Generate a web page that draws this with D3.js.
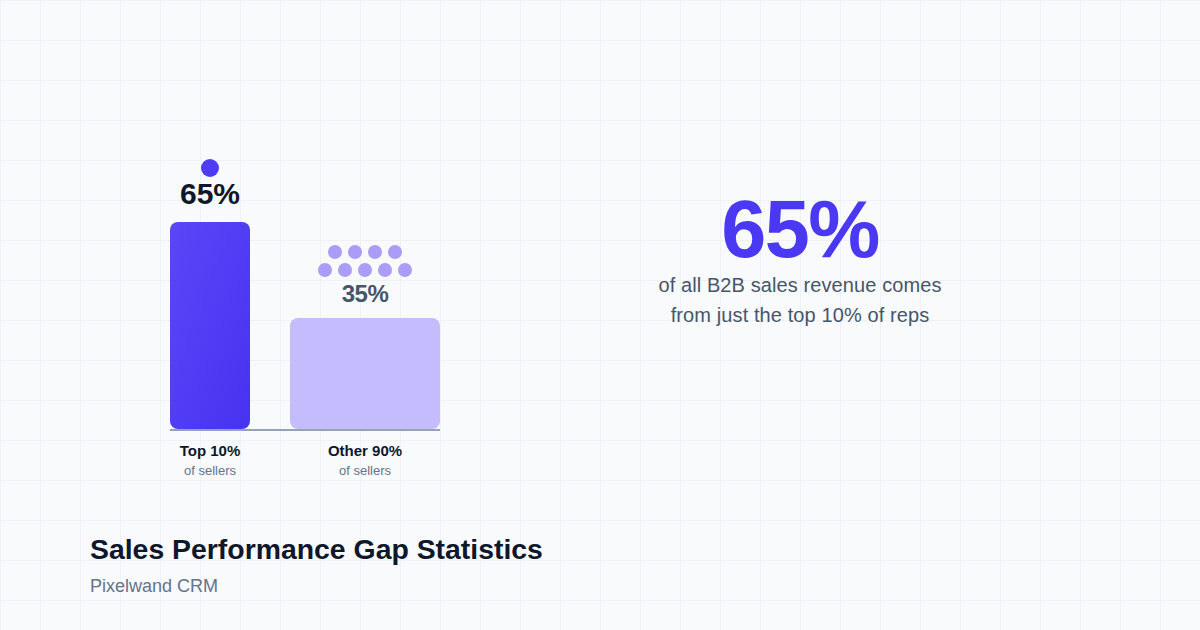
<!DOCTYPE html>
<html>
<head>
<meta charset="utf-8">
<script src="https://cdn.jsdelivr.net/npm/d3@7/dist/d3.min.js"></script>
<style>
  html, body { margin: 0; padding: 0; background: #f8fafc; }
  svg { display: block; font-family: "Liberation Sans", Arial, Helvetica, sans-serif; }
</style>
</head>
<body>
<svg id="chart" width="1200" height="630"></svg>
<script>
// ---- data ----
const categories = ["Top 10%", "Other 90%"];
const subLabels = ["of sellers", "of sellers"];
const shareValues = [65, 35];
const valueLabels = ["65%", "35%"];
const dotCounts = [1, 9];
const headline = "65%";
const headlineLines = ["of all B2B sales revenue comes", "from just the top 10% of reps"];
const title = "Sales Performance Gap Statistics";
const subtitle = "Pixelwand CRM";

// ---- layout ----
const W = 1200, H = 630;
const baseY = 430, chartLeft = 170;
const barWidths = [80, 150];
const barGap = 40;
const svg = d3.select("#chart");

// background grid
const gridX = d3.range(0, W + 1, 40), gridY = d3.range(0, H + 1, 40);
svg.append("rect").attr("width", W).attr("height", H).attr("fill", "#f8fafc");
svg.append("g").selectAll("line.v").data(gridX).join("line")
  .attr("x1", d => d + 0.5).attr("x2", d => d + 0.5).attr("y1", 0).attr("y2", H)
  .attr("stroke", "#eef2f6").attr("stroke-width", 1);
svg.append("g").selectAll("line.h").data(gridY).join("line")
  .attr("y1", d => d + 0.5).attr("y2", d => d + 0.5).attr("x1", 0).attr("x2", W)
  .attr("stroke", "#eef2f6").attr("stroke-width", 1);

// gradient
const defs = svg.append("defs");
const grad = defs.append("linearGradient").attr("id", "g1")
  .attr("x1", "0").attr("y1", "0").attr("x2", "1").attr("y2", "1");
grad.append("stop").attr("offset", "0%").attr("stop-color", "#5a47f8");
grad.append("stop").attr("offset", "100%").attr("stop-color", "#4733f0");

// scales
const y = d3.scaleLinear().domain([0, 100]).range([baseY, baseY - 320]);
const xStarts = barWidths.map((w, i) => chartLeft + d3.sum(barWidths.slice(0, i)) + barGap * i);
const x = d3.scaleOrdinal().domain(categories).range(xStarts);
const bw = d3.scaleOrdinal().domain(categories).range(barWidths);
const cx = c => x(c) + bw(c) / 2;

const rows = categories.map((c, i) => ({ c, v: shareValues[i], label: valueLabels[i], sub: subLabels[i], dots: dotCounts[i], i }));

// bars
svg.append("g").selectAll("rect").data(rows).join("rect")
  .attr("x", d => x(d.c)).attr("width", d => bw(d.c))
  .attr("y", d => y(d.v)).attr("height", d => y(0) - y(d.v) - 1)
  .attr("rx", 8).attr("ry", 8)
  .attr("fill", d => d.i === 0 ? "url(#g1)" : "#c4bcfd");

// baseline
svg.append("line")
  .attr("x1", chartLeft).attr("x2", x(categories[1]) + bw(categories[1]))
  .attr("y1", baseY).attr("y2", baseY)
  .attr("stroke", "#94a3b8").attr("stroke-width", 2);

// value labels
svg.append("g").selectAll("text").data(rows).join("text")
  .attr("x", d => cx(d.c))
  .attr("y", d => y(d.v) - (d.i === 0 ? 18 : 16))
  .attr("text-anchor", "middle")
  .attr("font-weight", 700)
  .attr("font-size", d => d.i === 0 ? 30 : 24)
  .attr("letter-spacing", d => d.i === 0 ? 0 : -0.5)
  .attr("fill", d => d.i === 0 ? "#0f172a" : "#475569")
  .text(d => d.label);

// people dots
rows.forEach(d => {
  const n = d.dots;
  let pts = [];
  if (n === 1) {
    pts.push({ x: cx(d.c), y: y(d.v) - 54, r: 9 });
  } else {
    const top = Math.floor(n / 2), bottom = n - top;
    const step = 20;
    for (let k = 0; k < top; k++) pts.push({ x: cx(d.c) + (k - (top - 1) / 2) * step, y: y(d.v) - 66, r: 7 });
    for (let k = 0; k < bottom; k++) pts.push({ x: cx(d.c) + (k - (bottom - 1) / 2) * step, y: y(d.v) - 48, r: 7 });
  }
  svg.append("g").selectAll("circle").data(pts).join("circle")
    .attr("cx", p => p.x).attr("cy", p => p.y).attr("r", p => p.r)
    .attr("fill", d.i === 0 ? "#4f3bf4" : "#ab9df7");
});

// category labels
svg.append("g").selectAll("text").data(rows).join("text")
  .attr("x", d => cx(d.c)).attr("y", baseY + 26)
  .attr("text-anchor", "middle").attr("font-weight", 700).attr("font-size", 15)
  .attr("fill", "#0f172a").text(d => d.c);
svg.append("g").selectAll("text").data(rows).join("text")
  .attr("x", d => cx(d.c)).attr("y", baseY + 45)
  .attr("text-anchor", "middle").attr("font-size", 13)
  .attr("fill", "#64748b").text(d => d.sub);

// headline
svg.append("text").attr("x", 800).attr("y", 257)
  .attr("text-anchor", "middle").attr("font-weight", 700).attr("font-size", 81)
  .attr("letter-spacing", -1.5)
  .attr("fill", "#4b38f2").text(headline);
svg.append("g").selectAll("text").data(headlineLines).join("text")
  .attr("x", 800).attr("y", (d, i) => 292 + i * 30)
  .attr("text-anchor", "middle").attr("font-size", 20)
  .attr("letter-spacing", 0.1)
  .attr("fill", "#475569").text(d => d);

// title
svg.append("text").attr("x", 90).attr("y", 559)
  .attr("font-weight", 700).attr("font-size", 28.4).attr("fill", "#0f172a").text(title);
svg.append("text").attr("x", 90).attr("y", 592)
  .attr("font-size", 18).attr("fill", "#64748b").text(subtitle);
</script>
</body>
</html>
